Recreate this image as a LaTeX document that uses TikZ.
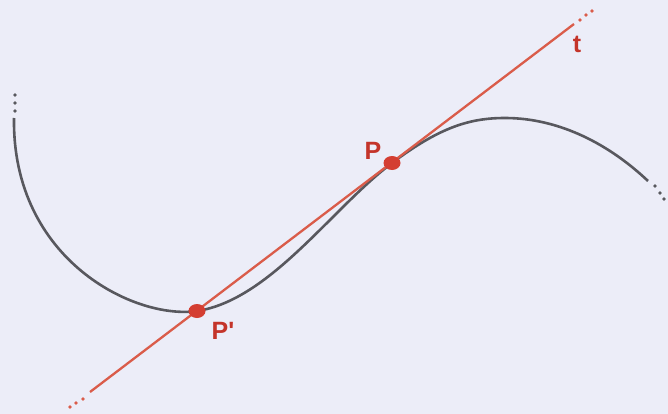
\documentclass[tikz,border=0pt]{standalone}
\usepackage{fontspec}
\setmainfont{Liberation Sans}
\usetikzlibrary{shapes.geometric}
\definecolor{bg}{RGB}{236,237,248}
\definecolor{curvegray}{RGB}{88,88,94}
\definecolor{linered}{RGB}{218,92,74}
\definecolor{ptred}{RGB}{212,62,50}
\definecolor{lblred}{RGB}{196,52,42}
\begin{document}
\begin{tikzpicture}[x=1pt,y=-1pt,
  curve/.style={draw=curvegray,line width=2.6pt},
  tline/.style={draw=linered,line width=2.3pt},
  gdot/.style={fill=curvegray,circle,inner sep=0pt,minimum size=3.6pt},
  rdot/.style={fill=linered,circle,inner sep=0pt,minimum size=3.6pt},
  pt/.style={fill=ptred,ellipse,inner sep=0pt,minimum width=17pt,minimum height=14pt},
  lbl/.style={text=lblred,font=\bfseries\fontsize{25}{25}\selectfont,inner sep=0pt}]
\fill[bg] (0,0) rectangle (668,414);
\useasboundingbox (0,0) rectangle (668,414);
% named points
\coordinate (cs) at (14,118);
\coordinate (Pp) at (197,311);
\coordinate (P) at (392,163);
\coordinate (mx) at (505,118);
\coordinate (ce) at (648,181);
\coordinate (ls) at (90,392);
\coordinate (le) at (574,24);
% curve
\draw[curve] (cs) .. controls (12,260) and (135,320) .. (Pp)
  .. controls (270,300) and (332,208) .. (P)
  .. controls (440,127) and (470,118) .. (mx)
  .. controls (560,118) and (610,145) .. (ce);
\node[gdot] at (15,95) {};
\node[gdot] at (15,103) {};
\node[gdot] at (15,111) {};
\node[gdot] at (655,186) {};
\node[gdot] at (660,193) {};
\node[gdot] at (664,199) {};
% tangent/secant line
\draw[tline] (ls) -- (le);
\node[rdot] at (70,407) {};
\node[rdot] at (76,403) {};
\node[rdot] at (83,399) {};
\node[rdot] at (580,20) {};
\node[rdot] at (586,15) {};
\node[rdot] at (592,11) {};
% points
\node[pt] (nP) at (P) {};
\node[pt] (nPp) at (Pp) {};
% labels
\node[lbl] at (373,151) {P};
\node[lbl] at (223,331) {P\textquotesingle};
\node[lbl] at (577,44) {t};
\end{tikzpicture}
\end{document}
